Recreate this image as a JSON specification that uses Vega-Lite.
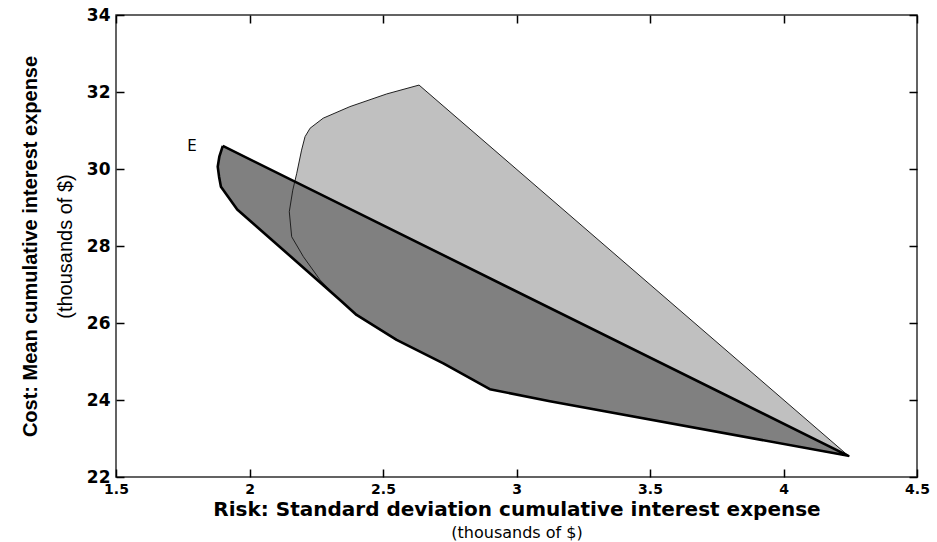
{
  "$schema": "https://vega.github.io/schema/vega-lite/v6.json",
  "autosize": "none",
  "width": 801,
  "height": 462,
  "padding": {"left": 116, "top": 15, "right": 20, "bottom": 65},
  "background": "white",
  "config": {
    "view": {"stroke": "#303030", "strokeWidth": 1.5},
    "axis": {"grid": false, "domain": false, "labelColor": "black", "titleColor": "black", "tickColor": "black"}
  },
  "datasets": {
    "lightRegion": [
      {"ord": 1, "risk": 2.635, "cost": 32.18},
      {"ord": 2, "risk": 2.514, "cost": 31.95},
      {"ord": 3, "risk": 2.376, "cost": 31.62},
      {"ord": 4, "risk": 2.276, "cost": 31.32},
      {"ord": 5, "risk": 2.227, "cost": 31.06},
      {"ord": 6, "risk": 2.208, "cost": 30.84},
      {"ord": 7, "risk": 2.195, "cost": 30.49},
      {"ord": 8, "risk": 2.177, "cost": 29.89},
      {"ord": 9, "risk": 2.162, "cost": 29.45},
      {"ord": 10, "risk": 2.149, "cost": 28.89},
      {"ord": 11, "risk": 2.158, "cost": 28.24},
      {"ord": 12, "risk": 2.202, "cost": 27.72},
      {"ord": 13, "risk": 2.264, "cost": 27.12},
      {"ord": 14, "risk": 2.339, "cost": 26.60},
      {"ord": 15, "risk": 2.401, "cost": 26.21},
      {"ord": 16, "risk": 2.551, "cost": 25.56},
      {"ord": 17, "risk": 2.726, "cost": 24.95},
      {"ord": 18, "risk": 2.900, "cost": 24.28},
      {"ord": 19, "risk": 3.125, "cost": 23.97},
      {"ord": 20, "risk": 4.243, "cost": 22.55},
      {"ord": 21, "risk": 2.635, "cost": 32.18}
    ],
    "darkRegion": [
      {"ord": 1, "risk": 1.900, "cost": 30.60},
      {"ord": 2, "risk": 1.887, "cost": 30.32},
      {"ord": 3, "risk": 1.881, "cost": 30.06},
      {"ord": 4, "risk": 1.886, "cost": 29.80},
      {"ord": 5, "risk": 1.893, "cost": 29.54},
      {"ord": 6, "risk": 1.954, "cost": 28.95},
      {"ord": 7, "risk": 2.339, "cost": 26.60},
      {"ord": 8, "risk": 2.401, "cost": 26.21},
      {"ord": 9, "risk": 2.551, "cost": 25.56},
      {"ord": 10, "risk": 2.726, "cost": 24.95},
      {"ord": 11, "risk": 2.900, "cost": 24.28},
      {"ord": 12, "risk": 3.125, "cost": 23.97},
      {"ord": 13, "risk": 4.243, "cost": 22.55},
      {"ord": 14, "risk": 1.900, "cost": 30.60}
    ],
    "pointLabels": [
      {"label": "E", "risk": 1.900, "cost": 30.60}
    ]
  },
  "layer": [
    {
      "data": {"name": "lightRegion"},
      "mark": {"type": "line", "fill": "#c0c0c0", "strokeOpacity": 0, "interpolate": "linear"},
      "encoding": {
        "x": {"field": "risk", "type": "quantitative",
          "scale": {"domain": [1.5, 4.5], "nice": false, "zero": false},
          "axis": {"orient": "bottom", "values": [1.5, 2, 2.5, 3, 3.5, 4, 4.5], "ticks": false, "labelPadding": 5,
            "labelExpr": "datum.value + ''", "labelFlush": false, "labelOverlap": false,
            "labelFont": "DejaVu Sans", "labelFontWeight": "bold", "labelFontSize": 14,
            "title": "Risk: Standard deviation cumulative interest expense",
            "titleFont": "DejaVu Sans", "titleFontWeight": "bold", "titleFontSize": 20, "titlePadding": 3}},
        "y": {"field": "cost", "type": "quantitative",
          "scale": {"domain": [22, 34], "nice": false, "zero": false},
          "axis": {"orient": "left", "values": [22, 24, 26, 28, 30, 32, 34], "ticks": false, "labelPadding": 6,
            "labelFlush": false, "labelOverlap": false,
            "labelFont": "DejaVu Sans", "labelFontWeight": "bold", "labelFontSize": 17,
            "title": "Cost: Mean cumulative interest expense",
            "titleFont": "Liberation Sans", "titleFontWeight": "bold", "titleFontSize": 20, "titlePadding": 46}},
        "order": {"field": "ord", "type": "quantitative"}
      }
    },
    {
      "data": {"name": "darkRegion"},
      "mark": {"type": "line", "fill": "#808080", "strokeOpacity": 0, "interpolate": "linear"},
      "encoding": {
        "x": {"field": "risk", "type": "quantitative",
          "axis": {"orient": "top", "values": [1.5, 2, 2.5, 3, 3.5, 4, 4.5], "labels": false, "tickSize": -8, "tickWidth": 1.5, "title": null}},
        "y": {"field": "cost", "type": "quantitative",
          "axis": {"orient": "right", "values": [22, 24, 26, 28, 30, 32, 34], "labels": false, "tickSize": -8, "tickWidth": 1.5, "title": null}},
        "order": {"field": "ord", "type": "quantitative"}
      }
    },
    {
      "data": {"name": "lightRegion"},
      "mark": {"type": "line", "stroke": "#202020", "strokeWidth": 1, "interpolate": "linear"},
      "encoding": {
        "x": {"field": "risk", "type": "quantitative",
          "axis": {"orient": "bottom", "values": [1.5, 2, 2.5, 3, 3.5, 4, 4.5], "labels": false, "tickSize": -8, "tickWidth": 1.5, "title": null}},
        "y": {"field": "cost", "type": "quantitative",
          "axis": {"orient": "left", "values": [22, 24, 26, 28, 30, 32, 34], "labels": false, "tickSize": -8, "tickWidth": 1.5, "title": null}},
        "order": {"field": "ord", "type": "quantitative"}
      }
    },
    {
      "data": {"name": "darkRegion"},
      "mark": {"type": "line", "stroke": "black", "strokeWidth": 2.6, "strokeJoin": "round", "interpolate": "linear"},
      "encoding": {
        "x": {"field": "risk", "type": "quantitative",
          "axis": {"orient": "bottom", "ticks": false, "labels": false,
            "title": "(thousands of $)", "titleFont": "DejaVu Sans", "titleFontWeight": "normal", "titleFontSize": 16, "titlePadding": 47}},
        "y": {"field": "cost", "type": "quantitative",
          "axis": {"orient": "left", "ticks": false, "labels": false,
            "title": "(thousands of $)", "titleFont": "Liberation Sans", "titleFontWeight": "normal", "titleFontSize": 20, "titlePadding": 41}},
        "order": {"field": "ord", "type": "quantitative"}
      }
    },
    {
      "data": {"name": "pointLabels"},
      "mark": {"type": "text", "align": "right", "baseline": "middle", "dx": -26, "font": "DejaVu Sans", "fontSize": 15, "color": "black"},
      "encoding": {
        "x": {"field": "risk", "type": "quantitative", "axis": null},
        "y": {"field": "cost", "type": "quantitative", "axis": null},
        "text": {"field": "label"}
      }
    }
  ],
  "resolve": {"axis": {"x": "independent", "y": "independent"}}
}
